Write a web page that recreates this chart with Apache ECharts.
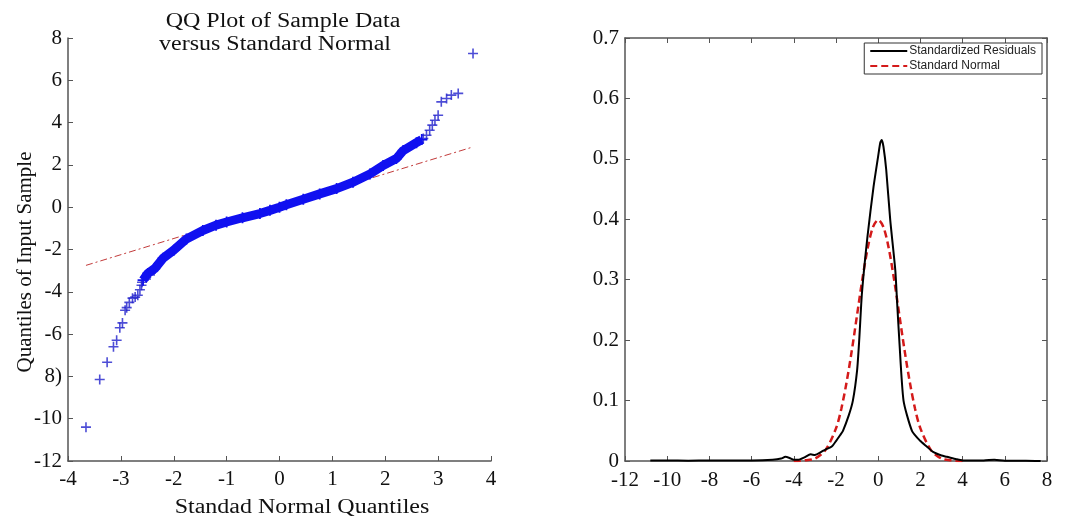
<!DOCTYPE html>
<html>
<head>
    <meta charset="utf-8">
    <title>QQ Plot and Density</title>
    <script src="https://cdn.jsdelivr.net/npm/echarts@6/dist/echarts.min.js"></script>
    <style>
        html, body { margin: 0; padding: 0; background: #fff; }
        #main { width: 1069px; height: 523px; }
    </style>
</head>
<body>
<div id="main"></div>
<script type="text/javascript">
    // QQ plot: dense band of sample quantiles
    var bandX = [-2.58, -2.49, -2.36, -2.2, -2.0, -1.76, -1.45, -1.2, -1.0, -0.7, -0.37, -0.18, 0, 0.13, 0.45, 0.76, 1.08, 1.39, 1.71, 1.96, 2.21, 2.34, 2.59, 2.69];
    var bandY = [-3.45, -3.13, -2.9, -2.41, -2.03, -1.5, -1.1, -0.85, -0.7, -0.5, -0.3, -0.15, 0, 0.12, 0.38, 0.63, 0.88, 1.18, 1.57, 1.97, 2.3, 2.68, 3.05, 3.2];
    // QQ plot: sparse tail points
    var tailX = [-3.66, -3.4, -3.26, -3.14, -3.08, -3.02, -2.97, -2.92, -2.89, -2.84, -2.78, -2.73, -2.68, -2.64, -2.61, -2.6, -2.52, -2.45,
        2.72, 2.78, 2.84, 2.89, 2.94, 3.0, 3.06, 3.16, 3.25, 3.38, 3.66];
    var tailY = [-10.4, -8.15, -7.33, -6.6, -6.29, -5.7, -5.47, -4.87, -4.75, -4.5, -4.3, -4.25, -4.16, -3.9, -3.69, -3.55, -3.3, -3.2,
        3.25, 3.4, 3.64, 3.88, 4.11, 4.35, 4.98, 5.14, 5.3, 5.38, 7.27];
    // reference line
    var refX = [-3.66, 3.66];
    var refY = [-2.75, 2.85];

    // density plot
    var residX = [-10.8, -10, -9, -8, -6, -5, -4.6, -4.4, -4.2, -4.0, -3.8, -3.5, -3.2, -3.0, -2.7, -2.5, -2.2, -2.0, -1.8, -1.67, -1.4, -1.2, -1.0, -0.9, -0.77, -0.51, -0.22, 0, 0.1, 0.17, 0.25, 0.38, 0.57, 0.81, 0.9, 1.0, 1.2, 1.6, 2.0, 2.3, 2.6, 3.0, 3.25, 3.7, 4.0, 5.0, 5.5, 6.0, 7.0, 7.7];
    var residY = [0.001, 0.001, 0.0005, 0.001, 0.001, 0.002, 0.004, 0.007, 0.005, 0.002, 0.002, 0.006, 0.011, 0.01, 0.015, 0.019, 0.024, 0.033, 0.043, 0.05, 0.075, 0.1, 0.15, 0.2, 0.278, 0.371, 0.454, 0.505, 0.527, 0.531, 0.52, 0.482, 0.399, 0.316, 0.26, 0.2, 0.1, 0.05, 0.033, 0.024, 0.015, 0.009, 0.007, 0.003, 0.001, 0.001, 0.002, 0.0005, 0.0005, 0];
    var normX = [-4, -3.5, -3, -2.5, -2, -1.75, -1.5, -1.25, -1, -0.75, -0.5, -0.25, 0, 0.25, 0.5, 0.75, 1, 1.25, 1.5, 1.75, 2, 2.5, 3, 3.5, 4];
    var normY = [0, 0.001, 0.004, 0.018, 0.054, 0.086, 0.13, 0.183, 0.242, 0.301, 0.352, 0.387, 0.399, 0.387, 0.352, 0.301, 0.242, 0.183, 0.13, 0.086, 0.054, 0.018, 0.004, 0.001, 0];

    // tick labels
    var qqYTicks = {'-12': '-12', '-10': '-10', '-8': '8)', '-6': '-6', '-4': '-4', '-2': '-2', '0': '0', '2': '2', '4': '4', '6': '6', '8': '8'};
    var densYTicks = ['0', '0.1', '0.2', '0.3', '0.4', '0.5', '0.6', '0.7'];

    function pairs(xs, ys) {
        var out = [];
        for (var i = 0; i < xs.length; i++) out.push([xs[i], ys[i]]);
        return out;
    }

    var serif = 'Liberation Serif';
    var axisCol = '#555';
    var plus = 'path://M4.2,0H5.8V4.2H10V5.8H5.8V10H4.2V5.8H0V4.2H4.2Z';

    var myChart = echarts.init(document.getElementById('main'));

    var labelStyle = {color: '#111', fontFamily: serif, fontSize: 21};
    // the reference text is a little stretched sideways
    var wideText = function (txt, x, y) {
        return {type: 'text', x: x, y: y, scaleX: 1.2, style: {text: txt, align: 'center', verticalAlign: 'middle', font: '20px "Liberation Serif"', fill: '#111'}};
    };

    var option = {
        animation: false,
        backgroundColor: '#fff',
        grid: [
            {left: 68, right: 578, top: 38, bottom: 62},
            {left: 625, right: 22, top: 38, bottom: 62}
        ],
        legend: {
            data: ['Standardized Residuals', 'Standard Normal'],
            orient: 'vertical',
            right: 27,
            top: 43,
            borderColor: '#333',
            borderWidth: 1,
            borderRadius: 0,
            padding: [2, 6, 2, 5],
            itemGap: 3,
            itemWidth: 37,
            itemHeight: 12,
            itemStyle: {opacity: 0},
            textStyle: {fontFamily: 'Liberation Sans', fontSize: 12, color: '#222', padding: [0, 0, 0, -3]}
        },
        graphic: [
            wideText('QQ Plot of Sample Data', 283, 22),
            wideText('versus Standard Normal', 275, 45),
            wideText('Standad Normal Quantiles', 302, 508),
            {type: 'text', x: 25, y: 262, rotation: Math.PI / 2, style: {text: 'Quantiles of Input Sample', align: 'center', verticalAlign: 'middle', font: '21px "Liberation Serif"', fill: '#111'}}
        ],
        xAxis: [
            {
                gridIndex: 0, type: 'value', min: -4, max: 4, interval: 1,
                axisLine: {onZero: false, lineStyle: {color: axisCol, width: 1.5}},
                axisTick: {inside: true, length: 5, lineStyle: {color: axisCol}},
                axisLabel: Object.assign({margin: 8}, labelStyle),
                splitLine: {show: false}
            },
            {
                gridIndex: 1, type: 'value', min: -12, max: 8, interval: 2,
                axisLine: {onZero: false, lineStyle: {color: axisCol, width: 1.5}},
                axisTick: {inside: true, length: 5, lineStyle: {color: axisCol}},
                axisLabel: Object.assign({margin: 9}, labelStyle),
                splitLine: {show: false}
            },
            {
                gridIndex: 1, type: 'value', min: -12, max: 8, interval: 2, position: 'top',
                axisLine: {onZero: false, lineStyle: {color: axisCol, width: 1.5}},
                axisTick: {inside: true, length: 5, lineStyle: {color: axisCol}},
                axisLabel: {show: false},
                splitLine: {show: false}
            }
        ],
        yAxis: [
            {
                gridIndex: 0, type: 'value', min: -12, max: 8, interval: 2,
                axisLine: {show: true, onZero: false, lineStyle: {color: axisCol, width: 1.5}},
                axisTick: {show: true, inside: true, length: 5, lineStyle: {color: axisCol}},
                axisLabel: Object.assign({margin: 6, formatter: function (v) { return qqYTicks[String(v)]; }}, labelStyle),
                splitLine: {show: false}
            },
            {
                gridIndex: 1, type: 'value', min: 0, max: 0.7, interval: 0.1,
                axisLine: {show: true, onZero: false, lineStyle: {color: axisCol, width: 1.5}},
                axisTick: {show: true, inside: true, length: 5, lineStyle: {color: axisCol}},
                axisLabel: Object.assign({margin: 6, formatter: function (v) { return densYTicks[Math.round(v * 10)]; }}, labelStyle),
                splitLine: {show: false}
            },
            {
                gridIndex: 1, type: 'value', min: 0, max: 0.7, interval: 0.1, position: 'right',
                axisLine: {show: true, onZero: false, lineStyle: {color: axisCol, width: 1.5}},
                axisTick: {show: true, inside: true, length: 5, lineStyle: {color: axisCol}},
                axisLabel: {show: false},
                splitLine: {show: false}
            }
        ],
        series: [
            {
                name: 'ref', type: 'line', xAxisIndex: 0, yAxisIndex: 0,
                data: pairs(refX, refY), symbol: 'none', silent: true,
                lineStyle: {color: '#c23a3a', width: 1, type: [7, 3, 2, 3]}
            },
            {
                name: 'band', type: 'line', xAxisIndex: 0, yAxisIndex: 0,
                data: pairs(bandX, bandY), symbol: plus, symbolSize: 11, showSymbol: true,
                itemStyle: {color: '#1010f0'},
                lineStyle: {color: '#1010f0', width: 9}
            },
            {
                name: 'tail', type: 'scatter', xAxisIndex: 0, yAxisIndex: 0,
                data: pairs(tailX, tailY), symbol: plus, symbolSize: 10,
                itemStyle: {color: '#2020cc'}
            },
            {
                name: 'Standard Normal', type: 'line', xAxisIndex: 1, yAxisIndex: 1,
                data: pairs(normX, normY), symbol: 'none', smooth: 0.3,
                itemStyle: {color: '#d41a1a'},
                lineStyle: {color: '#d41a1a', width: 2.5, type: [7, 4]}
            },
            {
                name: 'Standardized Residuals', type: 'line', xAxisIndex: 1, yAxisIndex: 1,
                data: pairs(residX, residY), symbol: 'none', smooth: 0.2,
                itemStyle: {color: '#000'},
                lineStyle: {color: '#000', width: 2}
            }
        ]
    };

    myChart.setOption(option);
</script>
</body>
</html>
